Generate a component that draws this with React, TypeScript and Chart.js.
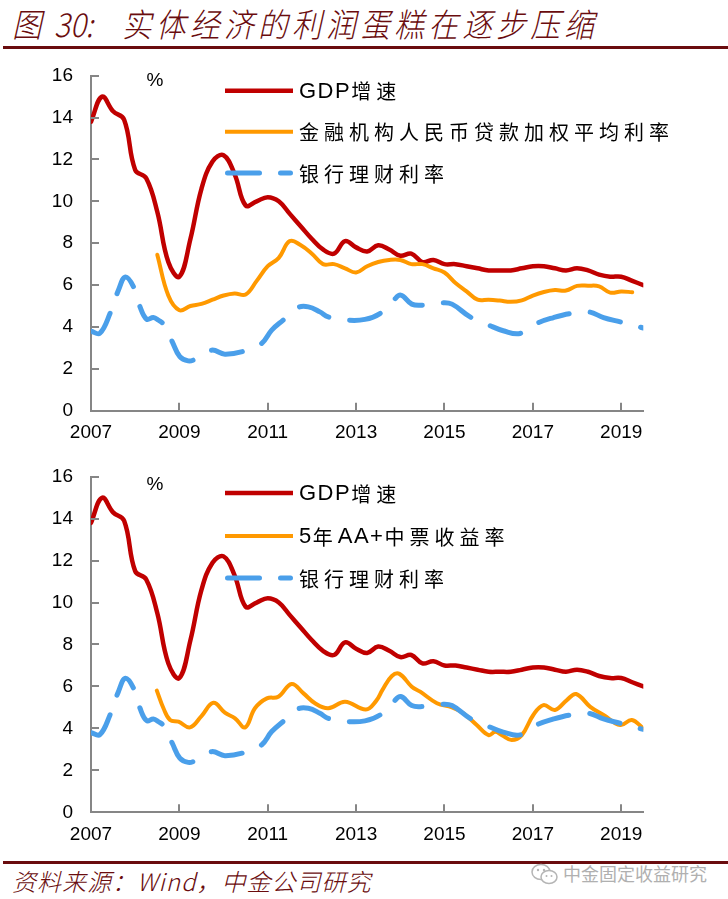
import React, { useEffect, useRef } from 'react';
import { Chart, registerables } from 'chart.js';

Chart.register(...registerables);

// ---------------- DATA ----------------
const xMin = 2007;
const xMax = 2019.5;
const xTickYears = [2007, 2009, 2011, 2013, 2015, 2017, 2019];
const yTicks = [0, 2, 4, 6, 8, 10, 12, 14, 16];

// GDP growth, quarterly from 2007Q1
const gdpStart = 2007;
const gdpGrowth = [
  13.8, 15.0, 14.3, 13.9,
  11.5, 11.1, 9.5, 7.1,
  6.4, 8.2, 10.6, 11.9,
  12.2, 11.3, 9.8, 10.0,
  10.2, 10.0, 9.4, 8.8,
  8.2, 7.7, 7.5, 8.1,
  7.8, 7.6, 7.9, 7.7,
  7.4, 7.5, 7.1, 7.2,
  7.0, 7.0, 6.9, 6.8,
  6.7, 6.7, 6.7, 6.8,
  6.9, 6.9, 6.8, 6.7,
  6.8, 6.7, 6.5, 6.4,
  6.4, 6.2, 6.0,
];

// Weighted average loan rate, quarterly from 2008Q3
const loanStart = 2008.5;
const loanRate = [
  7.45, 5.5,
  4.8, 5.0, 5.1, 5.3,
  5.5, 5.6, 5.55, 6.2,
  6.9, 7.3, 8.1, 7.9,
  7.5, 7.0, 7.0, 6.8,
  6.6, 6.9, 7.1, 7.2,
  7.2, 7.0, 7.0, 6.8,
  6.6, 6.1, 5.7, 5.3,
  5.3, 5.26, 5.2, 5.27,
  5.5, 5.67, 5.76, 5.74,
  5.96, 5.97, 5.94, 5.64,
  5.69, 5.66,
];

// Bank wealth-management product yield
const wmpDates = [
  2007.0, 2007.2, 2007.43, 2007.62, 2007.78, 2007.98, 2008.11, 2008.26, 2008.41, 2008.52,
  2008.66, 2008.84, 2009.01, 2009.2, 2009.35, 2009.73, 2010.03, 2010.49, 2010.86, 2011.09,
  2011.35, 2011.69, 2011.92, 2012.18, 2012.37, 2012.79, 2013.2, 2013.54, 2013.84, 2014.01,
  2014.26, 2014.49, 2014.94, 2015.17, 2015.58, 2016.0, 2016.33, 2016.71, 2017.09, 2017.47,
  2017.84, 2018.26, 2018.6, 2018.98, 2019.5,
];
const wmpYield = [
  3.8, 3.7, 4.64, 5.75, 6.39, 5.84, 4.96, 4.37, 4.45, 4.33,
  4.09, 3.29, 2.58, 2.38, 2.45, 2.89, 2.7, 2.86, 3.21, 3.85,
  4.33, 4.93, 4.96, 4.72, 4.48, 4.33, 4.36, 4.64, 5.25, 5.52,
  5.09, 5.04, 5.15, 5.09, 4.48, 4.09, 3.82, 3.69, 4.17, 4.45,
  4.64, 4.72, 4.45, 4.24, 3.95,
];

// 5Y AA+ MTN yield
const mtnDates = [
  2008.49, 2008.64, 2008.79, 2008.98, 2009.24, 2009.5, 2009.77, 2010.03, 2010.26, 2010.49,
  2010.71, 2010.98, 2011.24, 2011.54, 2011.81, 2012.07, 2012.37, 2012.75, 2013.22, 2013.45,
  2013.6, 2013.81, 2013.98, 2014.26, 2014.45, 2014.83, 2015.17, 2015.43, 2015.73, 2016.0,
  2016.15, 2016.3, 2016.52, 2016.75, 2017.01, 2017.24, 2017.5, 2017.77, 2017.98, 2018.3,
  2018.6, 2018.98, 2019.24, 2019.5,
];
const mtnYield = [
  5.8, 4.96, 4.4, 4.32, 4.05, 4.59, 5.22, 4.75, 4.48, 4.05,
  4.96, 5.43, 5.51, 6.12, 5.67, 5.2, 4.96, 5.27, 4.9, 5.3,
  5.85, 6.5, 6.6, 5.99, 5.75, 5.2, 5.0, 4.72, 4.16, 3.68,
  3.84, 3.68, 3.45, 3.68, 4.64, 5.11, 4.88, 5.35, 5.64, 5.03,
  4.64, 4.16, 4.4, 4.0,
];

const gdpLabel = 'GDP增速';
const loanLabel = '金融机构人民币贷款加权平均利率';
const mtnLabel = '5年AA+中票收益率';
const wmpLabel = '银行理财利率';

// ---------------- STYLE ----------------
const RED = '#C00000';
const ORANGE = '#FF9900';
const BLUE = '#4A9FEA';
const AXIS = '#868686';
const MAROON = '#6a0c0e';
const LABEL_FONT = '"Liberation Sans", Arial, sans-serif';

const quarterly = (start: number, vals: number[]) => vals.map((v, i) => ({ x: start + i / 4, y: v }));
const paired = (xs: number[], ys: number[]) => xs.map((x, i) => ({ x, y: ys[i] }));

function drawSpacedText(ctx: CanvasRenderingContext2D, text: string, x: number, y: number) {
  let cx = x;
  for (const ch of text) {
    const isCJK = ch.charCodeAt(0) > 0x2e80;
    ctx.font = isCJK ? '20px "Noto Sans CJK SC", sans-serif' : '22px ' + LABEL_FONT;
    ctx.fillText(ch, cx, y);
    cx += ctx.measureText(ch).width + (isCJK ? 5 : 1.5);
  }
}

const decorPlugin = {
  id: 'decor',
  afterDraw(chart: any, _args: any, opts: any) {
    const { ctx, chartArea } = chart;
    const { left, bottom } = chartArea;
    const xs = chart.scales.x;
    const ys = chart.scales.y;
    ctx.save();
    // inward tick marks
    ctx.strokeStyle = AXIS;
    ctx.lineWidth = 2;
    ctx.beginPath();
    yTicks.forEach((v) => {
      const py = Math.round(ys.getPixelForValue(v));
      ctx.moveTo(left, py);
      ctx.lineTo(left + 8, py);
    });
    xTickYears.forEach((v) => {
      if (v === xMin) return;
      const px = Math.round(xs.getPixelForValue(v));
      ctx.moveTo(px, bottom);
      ctx.lineTo(px, bottom - 8);
    });
    ctx.stroke();
    // % unit
    ctx.fillStyle = '#000';
    ctx.font = '19px ' + LABEL_FONT;
    ctx.textAlign = 'center';
    ctx.textBaseline = 'middle';
    ctx.fillText('%', opts.pctX, opts.pctY);
    // legend
    const items = opts.legend as { ds: number; y: number }[];
    items.forEach((it) => {
      const ds = chart.data.datasets[it.ds];
      ctx.save();
      ctx.strokeStyle = ds.borderColor;
      ctx.lineWidth = ds.borderWidth;
      ctx.lineCap = ds.borderDash ? 'round' : 'butt';
      ctx.setLineDash(ds.borderDash || []);
      ctx.beginPath();
      ctx.moveTo(opts.legendX0 + (ds.borderDash ? 2.5 : 0), it.y);
      ctx.lineTo(opts.legendX1 - (ds.borderDash ? 2.5 : 0), it.y);
      ctx.stroke();
      ctx.restore();
      ctx.fillStyle = '#000';
      ctx.textAlign = 'left';
      ctx.textBaseline = 'middle';
      drawSpacedText(ctx, ds.label, opts.legendTextX, it.y + 1);
    });
    ctx.restore();
  },
};

type PanelProps = {
  top: number;
  height: number;
  areaTop: number;
  areaBottom: number;
  midLabel: string;
  midData: { x: number; y: number }[];
  legendYs: number[];
  pctY: number;
};

function Panel({ top, height, areaTop, areaBottom, midLabel, midData, legendYs, pctY }: PanelProps) {
  const ref = useRef<HTMLCanvasElement | null>(null);
  useEffect(() => {
    if (!ref.current) return;
    const chart = new Chart(ref.current, {
      type: 'line',
      data: {
        datasets: [
          {
            label: wmpLabel,
            data: paired(wmpDates, wmpYield),
            borderColor: BLUE,
            borderWidth: 5,
            borderDash: [32, 21],
            borderCapStyle: 'round',
            borderJoinStyle: 'round',
            pointRadius: 0,
            tension: 0.4,
            fill: false,
          },
          {
            label: midLabel,
            data: midData,
            borderColor: ORANGE,
            borderWidth: 4,
            borderJoinStyle: 'round',
            borderCapStyle: 'round',
            pointRadius: 0,
            tension: 0.4,
            fill: false,
          },
          {
            label: gdpLabel,
            data: quarterly(gdpStart, gdpGrowth),
            borderColor: RED,
            borderWidth: 4.5,
            borderJoinStyle: 'round',
            borderCapStyle: 'round',
            pointRadius: 0,
            tension: 0.4,
            fill: false,
          },
        ] as any,
      },
      options: {
        animation: false,
        responsive: false,
        devicePixelRatio: 1,
        events: [],
        layout: { padding: { left: 0, right: 728 - 643.3, top: areaTop, bottom: 0 } },
        plugins: {
          legend: { display: false },
          tooltip: { enabled: false },
          decor: {
            legend: [
              { ds: 2, y: legendYs[0] },
              { ds: 1, y: legendYs[1] },
              { ds: 0, y: legendYs[2] },
            ],
            legendX0: 225,
            legendX1: 293,
            legendTextX: 299,
            pctX: 155,
            pctY,
          },
        } as any,
        scales: {
          x: {
            type: 'linear',
            min: xMin,
            max: xMax,
            afterBuildTicks: (s: any) => {
              s.ticks = xTickYears.map((v) => ({ value: v }));
            },
            afterFit: (s: any) => {
              s.height = height - areaBottom;
              s.paddingLeft = 0;
              s.paddingRight = 0;
            },
            grid: { display: false, drawTicks: false },
            border: { display: true, color: AXIS, width: 2 },
            ticks: {
              color: '#000',
              padding: 11,
              maxRotation: 0,
              autoSkip: false,
              font: { family: LABEL_FONT, size: 19 },
              callback: (v: any) => String(v),
            },
          },
          y: {
            type: 'linear',
            min: 0,
            max: 16,
            afterBuildTicks: (s: any) => {
              s.ticks = yTicks.map((v) => ({ value: v }));
            },
            afterFit: (s: any) => {
              s.width = 91;
              s.paddingTop = 0;
              s.paddingBottom = 0;
            },
            grid: { display: false, drawTicks: false },
            border: { display: true, color: AXIS, width: 2 },
            ticks: {
              color: '#000',
              padding: 18,
              font: { family: LABEL_FONT, size: 19 },
              callback: (v: any) => String(v),
            },
          },
        },
      } as any,
      plugins: [decorPlugin as any],
    });
    return () => chart.destroy();
  }, []);
  return (
    <canvas
      ref={ref}
      width={728}
      height={height}
      style={{ position: 'absolute', left: 0, top, width: 728, height }}
    />
  );
}

function WeChatIcon() {
  return (
    <svg width="30" height="24" viewBox="0 0 30 24" style={{ position: 'absolute', left: 530, top: 862 }}>
      <ellipse cx="11" cy="10" rx="9" ry="7.5" fill="none" stroke="#b5b5b5" strokeWidth="1.5" />
      <ellipse cx="19" cy="15" rx="8" ry="6.5" fill="#fff" stroke="#b5b5b5" strokeWidth="1.5" />
      <circle cx="8" cy="8" r="1.2" fill="#b5b5b5" />
      <circle cx="14" cy="8" r="1.2" fill="#b5b5b5" />
      <circle cx="16.5" cy="14" r="1" fill="#b5b5b5" />
      <circle cx="21.5" cy="14" r="1" fill="#b5b5b5" />
    </svg>
  );
}

const titleStyle: React.CSSProperties = {
  position: 'absolute',
  top: 1,
  fontSize: 33,
  lineHeight: '44px',
  fontStyle: 'italic',
  fontWeight: 300,
  color: MAROON,
  fontFamily: '"Noto Sans CJK SC", sans-serif',
  whiteSpace: 'nowrap',
  transform: 'scaleX(0.9)',
  transformOrigin: 'left center',
};

export default function App() {
  return (
    <div
      style={{
        position: 'absolute',
        left: 0,
        top: 0,
        width: 728,
        height: 899,
        background: '#fff',
        overflow: 'hidden',
      }}
    >
      <div style={{ ...titleStyle, left: 12 }}>图</div>
      <div style={{ ...titleStyle, left: 54 }}>30:</div>
      <div style={{ ...titleStyle, left: 122, letterSpacing: '4.8px' }}>实体经济的利润蛋糕在逐步压缩</div>
      <div style={{ position: 'absolute', left: 3, top: 46, width: 725, height: 3, background: MAROON }} />

      <Panel
        top={52}
        height={398}
        areaTop={75.7 - 52}
        areaBottom={410.7 - 52}
        midLabel={loanLabel}
        midData={quarterly(loanStart, loanRate)}
        legendYs={[90.7 - 52, 131.7 - 52, 173 - 52]}
        pctY={80.8 - 52}
      />
      <Panel
        top={455}
        height={400}
        areaTop={476.7 - 455}
        areaBottom={812.3 - 455}
        midLabel={mtnLabel}
        midData={paired(mtnDates, mtnYield)}
        legendYs={[493 - 455, 536 - 455, 578 - 455]}
        pctY={485 - 455}
      />

      <div style={{ position: 'absolute', left: 3, top: 861, width: 725, height: 3, background: MAROON }} />
      <div
        style={{
          position: 'absolute',
          left: 12,
          top: 865,
          fontSize: 24,
          lineHeight: '32px',
          fontStyle: 'italic',
          fontWeight: 300,
          color: MAROON,
          fontFamily: '"Noto Sans CJK SC", sans-serif',
          letterSpacing: '1px',
          whiteSpace: 'nowrap',
        }}
      >
        资料来源：Wind，中金公司研究
      </div>
      <WeChatIcon />
      <div
        style={{
          position: 'absolute',
          left: 563,
          top: 860,
          fontSize: 18,
          lineHeight: '26px',
          color: '#b0b0b0',
          fontFamily: '"Noto Sans CJK SC", sans-serif',
          whiteSpace: 'nowrap',
        }}
      >
        中金固定收益研究
      </div>
    </div>
  );
}
